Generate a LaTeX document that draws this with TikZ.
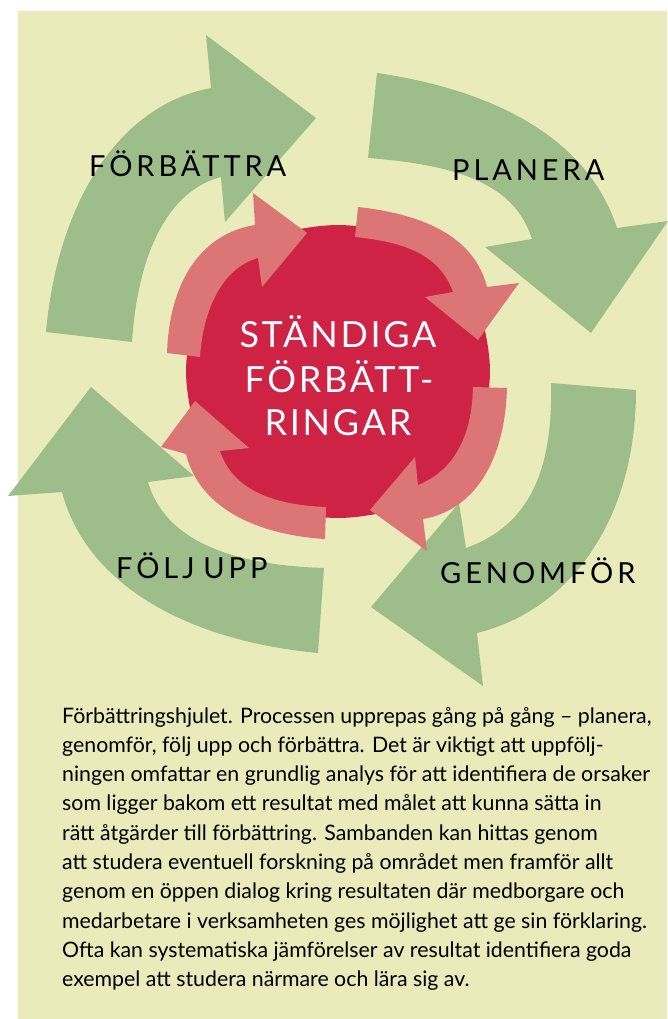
\documentclass[tikz,border=0pt]{standalone}
\usepackage{fontspec}
\setmainfont{Lato}
\newfontfamily\labelfont[LetterSpace=13.5]{Lato}
\newfontfamily\centerfont[LetterSpace=7.5]{Lato}
\definecolor{bgc}{HTML}{E9ECBA}
\definecolor{arrgreen}{HTML}{9DBD8A}
\definecolor{arrpink}{HTML}{DC7676}
\definecolor{blobred}{HTML}{CF2346}
\begin{document}
\begin{tikzpicture}[x=1pt,y=-1pt,
  greenarrow/.style={fill=arrgreen},
  pinkarrow/.style={fill=arrpink},
  steplabel/.style={font=\labelfont\fontsize{29}{32}\selectfont, text=black, inner sep=0pt, anchor=base west},
  centertext/.style={font=\centerfont\fontsize{36}{44}\selectfont, text=white, inner sep=0pt, anchor=base},
  para/.style={font=\fontsize{21.3}{29.3}\selectfont, text=black, inner sep=0pt, anchor=base west}]
\useasboundingbox (0,0) rectangle (667,1019);
\fill[bgc] (18,11) rectangle (667,1019);

% green arrows
% FORBATTRA (top-left)
\fill[greenarrow] (46,332) .. controls (58,200) and (120,105) .. (211,88)
  -- (206,35) -- (316,118) -- (225,222) -- (221,177)
  .. controls (170,190) and (138,250) .. (132,342) -- cycle;
% PLANERA (top-right)
\fill[greenarrow] (377,73) .. controls (480,88) and (585,130) .. (617,228)
  -- (668,221) -- (591,333) -- (485,247) -- (532,239)
  .. controls (515,185) and (460,165) .. (368,158) -- cycle;
% GENOMFOR (bottom-right)
\fill[greenarrow] (636,390) .. controls (636,520) and (570,610) .. (477,633)
  -- (483,686) -- (371,607) -- (459,503) -- (466,548)
  .. controls (530,525) and (553,470) .. (551,383) -- cycle;
% FOLJ UPP (bottom-left)
\fill[greenarrow] (318,653) .. controls (180,640) and (85,580) .. (62,492)
  -- (8,496) -- (91,387) -- (194,476) -- (148,482)
  .. controls (165,540) and (230,565) .. (324,568) -- cycle;

% red blob
\fill[blobred] plot[smooth cycle, tension=0.6] coordinates {
  (490,371.5) (473.4,287.4) (453.2,260.5) (425.2,241) (338,225)
  (250.8,241) (222.8,260.5) (202.6,287.4) (186,371.5)
  (202.6,455.6) (222.8,482.5) (250.8,502) (338,518)
  (425.2,502) (453.2,482.5) (473.4,455.6)};

% pink arrows
\fill[pinkarrow] (167,353) .. controls (170,270) and (210,232) .. (255,225)
  -- (253,193) -- (307,233) -- (262,287) -- (258,258)
  .. controls (222,268) and (203,310) .. (200,357) -- cycle;
\fill[pinkarrow] (358,207) .. controls (430,215) and (475,240) .. (487,287)
  -- (519,283) -- (478,340) -- (425,297) -- (453,292)
  .. controls (440,255) and (405,242) .. (355,237) -- cycle;
\fill[pinkarrow] (507,388) .. controls (505,460) and (475,510) .. (423,519)
  -- (427,551) -- (370,510) -- (415,457) -- (418,485)
  .. controls (455,470) and (472,435) .. (473,387) -- cycle;
\fill[pinkarrow] (325,539) .. controls (260,535) and (200,510) .. (186,454)
  -- (161,447) -- (195,401) -- (249,448) -- (220,451)
  .. controls (232,488) and (270,505) .. (326,507) -- cycle;

% labels
\node[steplabel] (forb) at (89,177) {FÖRBÄTTRA};
\node[steplabel] (plan) at (452,180) {PLANERA};
\node[steplabel] (folj) at (116,578) {FÖLJ\hspace{-2.5pt} UPP};
\node[steplabel] (genom) at (440,583) {GENOMFÖR};

\node[centertext] (c1) at (338,347) {STÄNDIGA};
\node[centertext] (c2) at (339,392) {FÖRBÄTT-};
\node[centertext] (c3) at (338,435) {RINGAR};

% caption
\foreach \t [count=\i] in {
  {Förbättringshjulet. Processen upprepas gång på gång – planera,},
  {genomför, följ upp och förbättra. Det är viktigt att uppfölj-},
  {ningen omfattar en grundlig analys för att identifiera de orsaker},
  {som ligger bakom ett resultat med målet att kunna sätta in},
  {rätt åtgärder till förbättring. Sambanden kan hittas genom},
  {att studera eventuell forskning på området men framför allt},
  {genom en öppen dialog kring resultaten där medborgare och},
  {medarbetare i verksamheten ges möjlighet att ge sin förklaring.},
  {Ofta kan systematiska jämförelser av resultat identifiera goda},
  {exempel att studera närmare och lära sig av.}}
  \node[para] (p\i) at (62,{723+29.3*(\i-1)}) {\t};
\end{tikzpicture}
\end{document}
